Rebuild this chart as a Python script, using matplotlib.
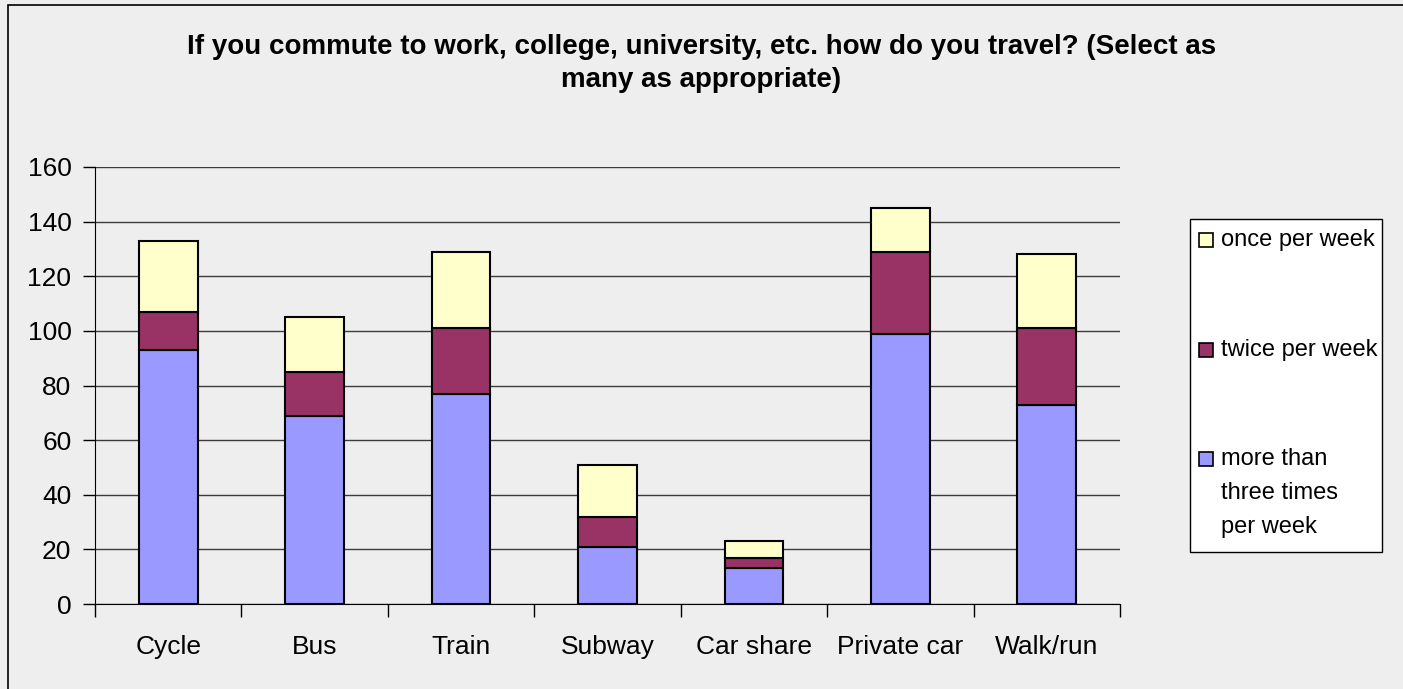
import numpy as np
import matplotlib.pyplot as plt
from matplotlib.patches import Rectangle

categories = ['Cycle', 'Bus', 'Train', 'Subway', 'Car share', 'Private car', 'Walk/run']
more_than_three = [93, 69, 77, 21, 13, 99, 73]
twice_per_week = [14, 16, 24, 11, 4, 30, 28]
once_per_week = [26, 20, 28, 19, 6, 16, 27]
yticks = [0, 20, 40, 60, 80, 100, 120, 140, 160]

series = [
    ('more than\nthree times\nper week', more_than_three, '#9999ff'),
    ('twice per week', twice_per_week, '#993366'),
    ('once per week', once_per_week, '#ffffcc'),
]

plt.rcParams['font.family'] = ['Liberation Sans', 'DejaVu Sans']

W, H = 1403, 689
fig = plt.figure(figsize=(W / 100, H / 100), dpi=100)
fig.patch.set_facecolor('#eeeeee')

ax = fig.add_axes([95 / W, 1 - 604 / H, (1120 - 95) / W, (604 - 167) / H])
ax.set_facecolor('#eeeeee')

x = np.arange(len(categories))
bottom = np.zeros(len(categories))
for name, vals, col in series:
    ax.bar(x, vals, width=0.4, bottom=bottom, color=col, edgecolor='black',
           linewidth=1.5, zorder=3)
    bottom += np.array(vals)

ax.set_xlim(-0.5, len(categories) - 0.5)
ax.set_ylim(0, 160)
ax.set_yticks(yticks)
ax.set_yticklabels([str(v) for v in yticks], fontsize=19)
ax.set_xticks(x)
ax.set_xticklabels(categories, fontsize=19, va='baseline')
ax.tick_params(axis='x', length=0, pad=36)
ax.tick_params(axis='y', length=9, width=1, pad=8)
# category boundary ticks
ax.set_xticks(np.arange(-0.5, len(categories)), minor=True)
ax.tick_params(axis='x', which='minor', length=9, width=1)

ax.grid(axis='y', color='#3c3c3c', linewidth=1, zorder=0)
for s in ['top', 'right']:
    ax.spines[s].set_visible(False)
ax.spines['left'].set_color('black')
ax.spines['bottom'].set_color('black')

fig.text(0.5, 1 - 47 / H, 'If you commute to work, college, university, etc. how do you travel? (Select as',
         ha='center', va='center', fontsize=20, fontweight='bold')
fig.text(0.5, 1 - 80 / H, 'many as appropriate)',
         ha='center', va='center', fontsize=20, fontweight='bold')

# outer chart border
fig.patches.append(Rectangle((8 / W, -0.01), 1.0, 1 - 5 / H + 0.01, transform=fig.transFigure,
                             fill=False, edgecolor='black', linewidth=1.2))

# legend box
fig.patches.append(Rectangle((1190 / W, 1 - 552 / H), (1382 - 1190) / W, (552 - 219) / H,
                             transform=fig.transFigure, facecolor='white',
                             edgecolor='black', linewidth=1))
legend_rows = [('once per week', '#ffffcc', 240), ('twice per week', '#993366', 350),
               ('more than\nthree times\nper week', '#9999ff', 459)]
for label, col, yc in legend_rows:
    fig.patches.append(Rectangle((1199 / W, 1 - (yc + 7) / H), 14 / W, 14 / H,
                                 transform=fig.transFigure, facecolor=col,
                                 edgecolor='black', linewidth=1.2))
    for i, line in enumerate(label.split('\n')):
        fig.text(1221 / W, 1 - (yc + i * 34) / H, line, ha='left', va='center', fontsize=17)

fig.savefig('out.png', dpi=100, facecolor=fig.get_facecolor())
